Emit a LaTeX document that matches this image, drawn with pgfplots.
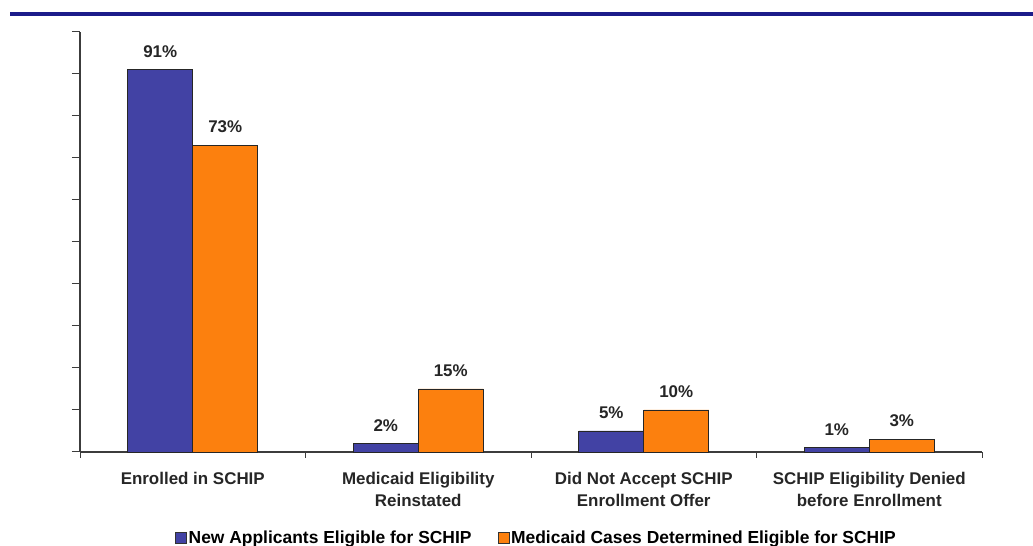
\documentclass[border=0pt]{standalone}
\usepackage{pgfplots}
\pgfplotsset{compat=1.18}
\usepackage{fontspec}
\setmainfont{Liberation Sans}
\definecolor{rulenavy}{RGB}{28,28,138}
\definecolor{barblue}{RGB}{66,66,164}
\definecolor{barorange}{RGB}{252,128,14}
\definecolor{axisgray}{RGB}{60,60,60}
\begin{document}
\begin{tikzpicture}[x=1bp,y=1bp]
\clip (0,0) rectangle (1033,546);
\path[fill=white] (0,0) rectangle (1033,546);
% heading rule
\draw[rulenavy, line width=4bp] (10,532) -- (1033,532);
\begin{axis}[
  at={(80bp,94bp)}, anchor=south west,
  scale only axis, width=902bp, height=420bp,
  ybar=0pt, bar width=65bp,
  xmin=-0.5, xmax=3.5, ymin=0, ymax=100,
  axis lines=left, axis line style={-, axisgray, line width=1.1bp},
  xtick={0,1,2,3},
  xticklabels={Enrolled in SCHIP, Medicaid Eligibility\\Reinstated, Did Not Accept SCHIP\\Enrollment Offer, SCHIP Eligibility Denied\\before Enrollment},
  xticklabel style={font=\fontsize{17}{22}\selectfont\bfseries, align=center, color=black!85, inner sep=0pt, yshift=-12bp},
  major x tick style={draw=none},
  minor xtick={-0.5,0.5,1.5,2.5,3.5},
  minor x tick style={axisgray, line width=1bp},
  ytick={0,10,...,100}, yticklabels={},
  y tick style={axisgray, line width=1bp},
  tick align=outside, major tick length=8bp, minor tick length=6bp,
  /pgf/number format/assume math mode=true,
  nodes near coords={\pgfmathprintnumber{\pgfplotspointmeta}\%},
  nodes near coords style={font=\fontsize{17}{20}\selectfont\bfseries, color=black!85, inner sep=0pt, yshift=12bp},
  legend style={at={(0.506,-0.205)}, anchor=center, draw=none, fill=none,
    font=\fontsize{17.5}{20}\selectfont\bfseries, legend columns=2,
    /tikz/every even column/.append style={column sep=24bp},
    /tikz/every odd column/.append style={column sep=0bp}},
  legend image code/.code={\draw[#1, draw=black!80, line width=0.6bp] (0bp,-5.5bp) rectangle (11bp,5.5bp);},
  clip=false,
]
\addplot[fill=barblue, draw=black!85, line width=0.8bp] coordinates {(0,91) (1,2) (2,5) (3,1)};
\addplot[fill=barorange, draw=black!85, line width=0.8bp] coordinates {(0,73) (1,15) (2,10) (3,3)};
\legend{New Applicants Eligible for SCHIP, Medicaid Cases Determined Eligible for SCHIP}
\end{axis}
\end{tikzpicture}
\end{document}
